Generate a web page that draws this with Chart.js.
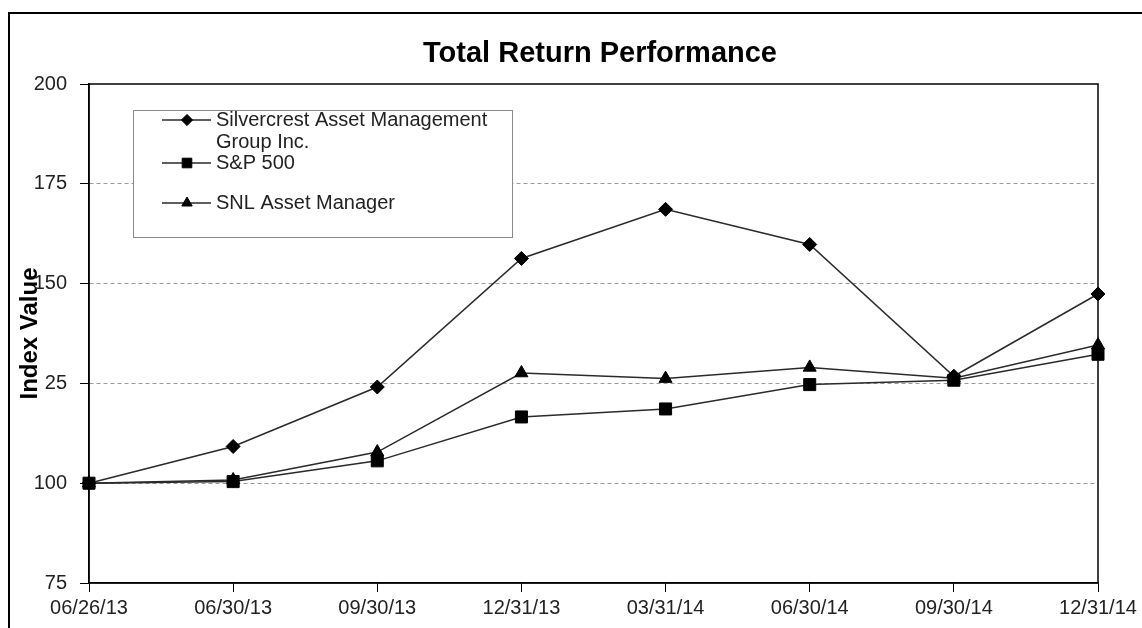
<!DOCTYPE html>
<html>
<head>
<meta charset="utf-8">
<script src="https://cdn.jsdelivr.net/npm/chart.js@4"></script>
<style>
  html, body { margin: 0; padding: 0; background: #fff; }
  #wrap { width: 1142px; height: 628px; }
</style>
</head>
<body>
<div id="wrap"><canvas id="myChart" width="1142" height="628"></canvas></div>
<script>
// data
const categories = ["06/26/13", "06/30/13", "09/30/13", "12/31/13", "03/31/14", "06/30/14", "09/30/14", "12/31/14"];
const silvercrest = [100, 109.2, 124.1, 156.3, 168.6, 159.8, 126.8, 147.4];
const sp500 = [100, 100.4, 105.6, 116.6, 118.6, 124.7, 125.8, 132.3];
const snl = [100, 100.8, 107.8, 127.6, 126.2, 129.0, 126.3, 134.6];
const seriesNames = [["Silvercrest Asset Management", "Group Inc."], ["S&P 500"], ["SNL Asset Manager"]];
const yTicks = [75, 100, 125, 150, 175, 200];
const yTickText = ["75", "100", "25", "150", "175", "200"];

const FONT = "'Liberation Sans', Arial, sans-serif";

function makeSet(name, values, style, radius) {
  return {
    label: name.join(" "),
    legendLines: name,
    data: values,
    borderColor: "#2a2a2a",
    borderWidth: 1.5,
    backgroundColor: "#000",
    pointStyle: style,
    pointRadius: radius,
    pointBackgroundColor: "#000",
    pointBorderColor: "#000",
    pointBorderWidth: 1,
    tension: 0,
    fill: false,
  };
}

// frame, title and boxed legend
const decorations = {
  id: "decorations",
  beforeDraw(chart) {
    const { ctx } = chart;
    ctx.save();
    ctx.fillStyle = "#fff";
    ctx.fillRect(0, 0, chart.width, chart.height);
    ctx.strokeStyle = "#000";
    ctx.lineWidth = 2;
    ctx.strokeRect(9, 13, chart.width + 20, chart.height + 20);
    ctx.restore();
  },
  afterDraw(chart) {
    const { ctx, chartArea: { left, right, top, bottom } } = chart;
    ctx.save();
    // plot frame
    ctx.strokeStyle = "#000";
    ctx.lineWidth = 1.5;
    ctx.strokeRect(left, top, right - left, bottom - top);

    // title
    ctx.font = "bold 29px " + FONT;
    ctx.fillStyle = "#000";
    ctx.textAlign = "center";
    ctx.textBaseline = "middle";
    ctx.fillText("Total Return Performance", 600, 54);

    // legend box
    ctx.fillStyle = "#fff";
    ctx.fillRect(133, 110, 379, 127);
    ctx.strokeStyle = "#8a8a8a";
    ctx.lineWidth = 1;
    ctx.strokeRect(133.5, 110.5, 379, 127);

    const rows = [120, 163, 203];
    ctx.font = "20px " + FONT;
    ctx.textAlign = "left";
    chart.data.datasets.forEach((ds, i) => {
      const y = rows[i];
      ctx.strokeStyle = "#2a2a2a";
      ctx.lineWidth = 1.5;
      ctx.beginPath();
      ctx.moveTo(162, y);
      ctx.lineTo(211, y);
      ctx.stroke();
      ctx.fillStyle = "#000";
      ctx.strokeStyle = "#000";
      ctx.lineWidth = 1;
      Chart.helpers.drawPoint(ctx, { pointStyle: ds.pointStyle, radius: ds.pointRadius * 0.8, rotation: 0, borderWidth: 1 }, 187, y);
      ds.legendLines.forEach((t, k) => {
        ctx.fillStyle = "#222";
        ctx.fillText(t, 216, y + k * 22);
      });
    });
    ctx.restore();
  },
};

const data = {
  labels: categories,
  datasets: [
    makeSet(seriesNames[0], silvercrest, "rectRot", 7),
    makeSet(seriesNames[1], sp500, "rect", 8.5),
    makeSet(seriesNames[2], snl, "triangle", 7.5),
  ],
};

const options = {
  responsive: false,
  animation: false,
  layout: {
    padding: { left: 0, right: 44, top: 84, bottom: 0 },
  },
  plugins: {
    legend: { display: false },
    title: { display: false },
    tooltip: { enabled: false },
  },
  scales: {
    x: {
      type: "category",
      offset: false,
      grid: {
        drawOnChartArea: false,
        drawTicks: true,
        tickLength: 9,
        tickColor: "#000",
      },
      border: { display: true, color: "#000", width: 1.5 },
      ticks: {
        color: "#222",
        font: { family: FONT, size: 20 },
        padding: 4,
        maxRotation: 0,
        autoSkip: false,
      },
      afterFit(scale) {
        scale.height = 45;
      },
    },
    y: {
      min: 75,
      max: 200,
      afterBuildTicks(scale) {
        scale.ticks = yTicks.map((v) => ({ value: v }));
      },
      grid: {
        drawOnChartArea: true,
        drawTicks: true,
        tickLength: 9,
        tickColor: "#000",
        tickBorderDash: [],
        lineWidth: 1,
        color: (c) => (c.tick && c.tick.value > 75 && c.tick.value < 200 ? "#9a9a9a" : "rgba(0,0,0,0)"),
      },
      border: { display: true, color: "#000", width: 1.5, dash: [4, 3] },
      ticks: {
        color: "#222",
        font: { family: FONT, size: 20 },
        padding: 13,
        callback: function (value) {
          const i = yTicks.indexOf(value);
          return i >= 0 ? yTickText[i] : "";
        },
      },
      title: {
        display: true,
        text: "Index Value",
        color: "#000",
        font: { family: FONT, size: 24, weight: "bold" },
        padding: { top: 16, bottom: 0 },
      },
      afterFit(scale) {
        scale.width = 89;
      },
    },
  },
};

const config = {
  type: "line",
  data: data,
  options: options,
  plugins: [decorations],
};

const myChart = new Chart(document.getElementById("myChart"), config);
</script>
</body>
</html>
